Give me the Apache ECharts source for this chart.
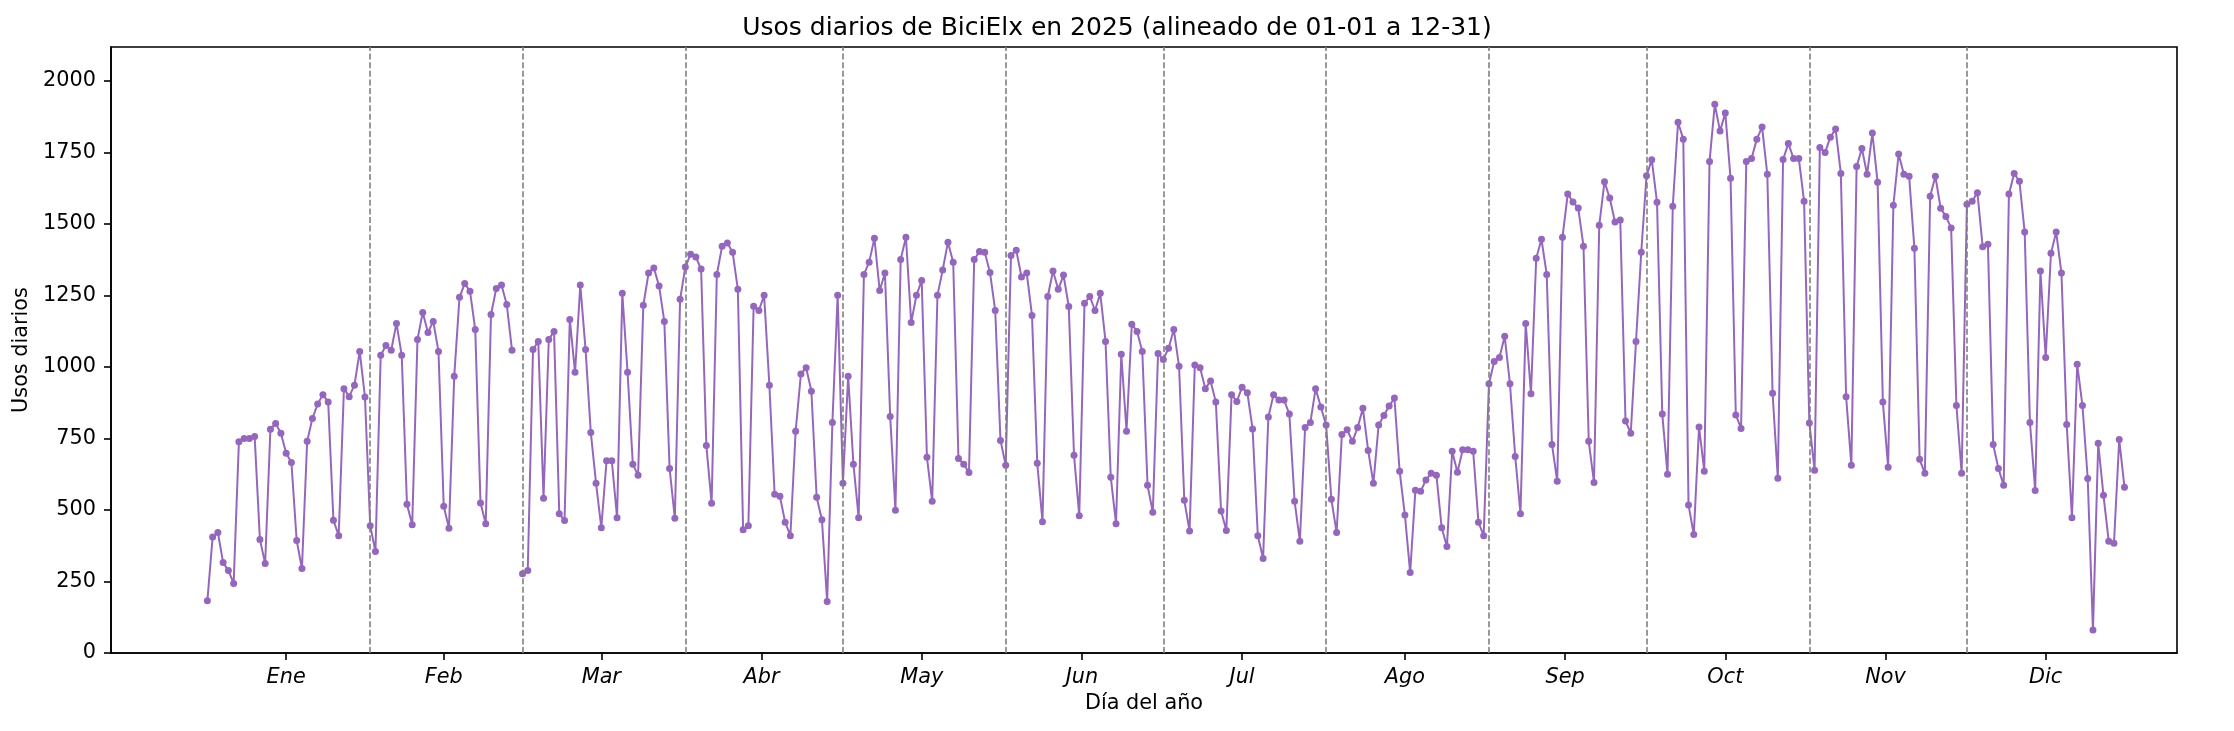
<!DOCTYPE html>
<html>
<head>
<meta charset="utf-8">
<script src="https://cdn.jsdelivr.net/npm/echarts@6/dist/echarts.min.js"></script>
<style>
  html, body { margin: 0; padding: 0; background: #fff; }
  #chart { width: 2234px; height: 731px; }
</style>
</head>
<body>
<div id="chart"></div>
<script>
// daily usage per month (days aligned to a leap year, so Feb 29 is empty)
const ene = [183, 405, 421, 316, 288, 243, 738, 750, 750, 757, 397, 313, 782, 802, 768, 698, 666, 393, 295, 740, 820, 870, 903, 877, 464, 410, 924, 896, 936, 1054, 895];
const feb = [445, 355, 1041, 1075, 1058, 1152, 1041, 520, 448, 1096, 1190, 1120, 1159, 1054, 513, 436, 967, 1243, 1291, 1264, 1131, 524, 452, 1183, 1274, 1286, 1218, 1058, null];
const mar = [277, 288, 1061, 1089, 541, 1096, 1124, 487, 463, 1166, 981, 1286, 1061, 771, 593, 438, 672, 672, 473, 1257, 981, 660, 621, 1215, 1328, 1346, 1283, 1159, 645, 471, 1236];
const abr = [1349, 1394, 1384, 1342, 725, 523, 1323, 1422, 1433, 1401, 1271, 431, 445, 1212, 1197, 1250, 936, 555, 548, 457, 410, 775, 975, 997, 915, 544, 466, 180, 806, 1250];
const may = [593, 967, 660, 473, 1323, 1366, 1450, 1267, 1328, 827, 499, 1375, 1453, 1155, 1250, 1302, 684, 530, 1250, 1339, 1436, 1366, 680, 660, 631, 1375, 1403, 1401, 1330, 1197, 743];
const jun = [656, 1389, 1408, 1314, 1328, 1180, 663, 459, 1246, 1335, 1271, 1321, 1211, 691, 480, 1222, 1246, 1197, 1257, 1089, 614, 452, 1044, 775, 1149, 1124, 1054, 586, 492, 1047];
const jul = [1026, 1065, 1131, 1002, 534, 426, 1007, 997, 924, 951, 877, 496, 428, 903, 879, 929, 910, 783, 410, 330, 825, 903, 884, 884, 835, 530, 391, 788, 806, 924, 860];
const ago = [797, 537, 421, 764, 780, 740, 788, 855, 708, 593, 797, 830, 863, 891, 635, 482, 281, 569, 565, 605, 628, 621, 438, 372, 705, 632, 710, 710, 705, 457, 410];
const sep = [941, 1019, 1033, 1107, 941, 687, 487, 1152, 906, 1380, 1446, 1323, 729, 600, 1453, 1604, 1576, 1555, 1422, 740, 596, 1495, 1647, 1590, 1506, 1513, 811, 768, 1089, 1401];
const oct = [1668, 1724, 1575, 835, 625, 1561, 1855, 1796, 517, 414, 790, 635, 1718, 1918, 1824, 1887, 1659, 832, 785, 1718, 1728, 1796, 1838, 1673, 908, 611, 1725, 1781, 1728, 1728, 1579];
const nov = [804, 639, 1767, 1749, 1803, 1831, 1676, 896, 656, 1700, 1763, 1673, 1817, 1645, 877, 649, 1565, 1744, 1673, 1666, 1415, 677, 628, 1596, 1666, 1554, 1526, 1485, 865, 628];
const dic = [1568, 1579, 1609, 1420, 1429, 729, 645, 586, 1604, 1676, 1649, 1471, 806, 568, 1335, 1033, 1397, 1471, 1328, 799, 473, 1009, 865, 610, 80, 733, 551, 391, 384, 746, 579];

const monthNames = ['Ene', 'Feb', 'Mar', 'Abr', 'May', 'Jun', 'Jul', 'Ago', 'Sep', 'Oct', 'Nov', 'Dic'];
const monthValues = [ene, feb, mar, abr, may, jun, jul, ago, sep, oct, nov, dic];
const yTicks = [0, 250, 500, 750, 1000, 1250, 1500, 1750, 2000];

// day-of-year positions: month starts, and tick in the middle of each month
const monthStarts = [];
const monthMids = [];
const points = [];
let day = 1;
monthValues.forEach((vals) => {
  monthStarts.push(day);
  monthMids.push(day + (vals.length - 1) / 2);
  vals.forEach((v, i) => points.push([day + i, v === null ? '-' : v]));
  day += vals.length;
});

const FONT = 'DejaVu Sans';
const chart = echarts.init(document.getElementById('chart'));
chart.setOption({
  animation: false,
  backgroundColor: '#fff',
  title: {
    text: 'Usos diarios de BiciElx en 2025 (alineado de 01-01 a 12-31)',
    left: 'center',
    top: 11,
    textStyle: { fontFamily: FONT, fontSize: 25, fontWeight: 'normal', color: '#000' },
  },
  grid: {
    left: 111,
    top: 47,
    width: 2066,
    height: 606,
    show: true,
    borderColor: '#000',
    borderWidth: 1.6,
  },
  xAxis: {
    type: 'value',
    min: -17.35,
    max: 376,
    name: 'Día del año',
    nameLocation: 'middle',
    nameGap: 40,
    nameTextStyle: { fontFamily: FONT, fontSize: 20.8, color: '#000' },
    axisLine: { show: true, onZero: false, lineStyle: { color: '#000', width: 1.6 } },
    axisTick: { show: true, length: 7, lineStyle: { color: '#000', width: 1.6 }, customValues: monthMids },
    axisLabel: {
      customValues: monthMids,
      margin: 14,
      fontFamily: FONT,
      fontSize: 20.8,
      fontStyle: 'italic',
      color: '#000',
      formatter: (v) => monthNames[monthMids.findIndex((m) => Math.abs(m - v) < 0.01)] || '',
    },
    splitLine: { show: false },
  },
  yAxis: {
    type: 'value',
    min: 0,
    max: 2118,
    name: 'Usos diarios',
    nameLocation: 'middle',
    nameGap: 70,
    nameTextStyle: { fontFamily: FONT, fontSize: 20.8, color: '#000' },
    axisLine: { show: true, onZero: false, lineStyle: { color: '#000', width: 1.6 } },
    axisTick: { show: true, length: 7, lineStyle: { color: '#000', width: 1.6 }, customValues: yTicks },
    axisLabel: {
      customValues: yTicks,
      margin: 15,
      fontFamily: FONT,
      fontSize: 20.8,
      color: '#000',
      formatter: (v) => String(v),
    },
    splitLine: { show: false },
  },
  series: [
    {
      type: 'line',
      data: points,
      connectNulls: false,
      symbol: 'circle',
      symbolSize: 7,
      showSymbol: true,
      lineStyle: { color: '#9467bd', width: 2 },
      itemStyle: { color: '#9467bd' },
      markLine: {
        silent: true,
        symbol: ['none', 'none'],
        label: { show: false },
        lineStyle: { color: '#808080', width: 1.6, type: [6, 2.6] },
        data: monthStarts.slice(1).map((d) => ({ xAxis: d })),
      },
    },
  ],
});
</script>
</body>
</html>
